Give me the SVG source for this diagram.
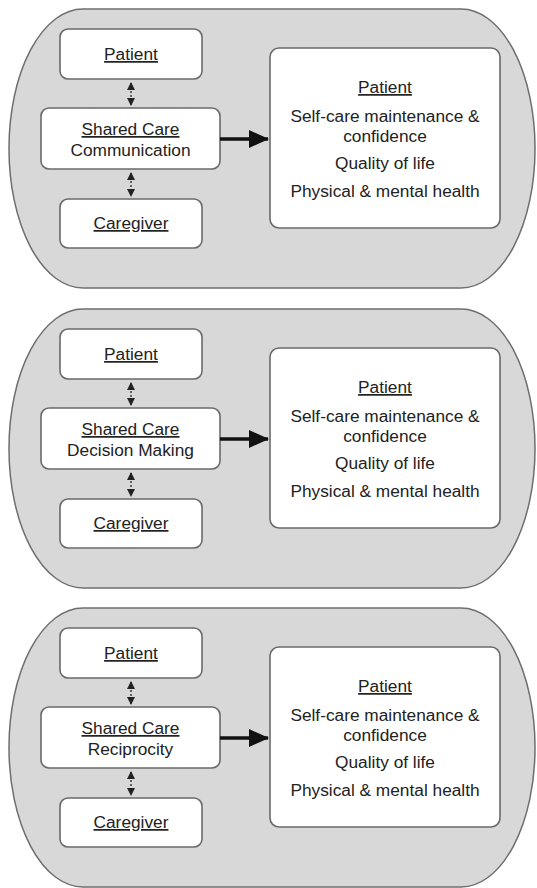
<svg xmlns="http://www.w3.org/2000/svg" width="537" height="888" viewBox="0 0 537 888">
<style>
.outer{fill:#d8d8d8;stroke:#6e6e6e;stroke-width:1.5}
.box{fill:#ffffff;stroke:#6a6a6a;stroke-width:1.6}
text{font-family:"Liberation Sans",Arial,sans-serif;font-size:17.3px;fill:#222;text-anchor:middle}
.u{text-decoration:underline}
.dbl{stroke:#222;stroke-width:1.3;stroke-dasharray:2 2;fill:none;marker-start:url(#sm);marker-end:url(#sm)}
.thick{stroke:#111;stroke-width:3.5;fill:none;marker-end:url(#big)}
</style>
<defs>
<marker id="sm" viewBox="0 0 8 8" refX="7" refY="4" markerWidth="8" markerHeight="8" markerUnits="userSpaceOnUse" orient="auto-start-reverse"><path d="M0,0 L8,4 L0,8 Z" fill="#222"/></marker>
<marker id="big" viewBox="0 0 20 18" refX="19" refY="9" markerWidth="20" markerHeight="18" markerUnits="userSpaceOnUse" orient="auto"><path d="M0,0 L20,9 L0,18 Z" fill="#111"/></marker>
</defs>

<g id="panel1">
<rect class="outer" x="9" y="9" width="526" height="279" rx="74" ry="139"/>
<g id="p1-patient"><rect class="box" x="60" y="29" width="142" height="50" rx="8"/><text x="131" y="60" class="u">Patient</text></g>
<g id="p1-shared"><rect class="box" x="41" y="108" width="179" height="61" rx="8"/><text x="130.5" y="135" class="u">Shared Care</text><text x="130.5" y="156">Communication</text></g>
<g id="p1-caregiver"><rect class="box" x="60" y="199" width="142" height="49" rx="8"/><text x="131" y="229" class="u">Caregiver</text></g>
<g id="p1-outcome"><rect class="box" x="270" y="48" width="230" height="180" rx="9"/><text x="385" y="93" class="u">Patient</text><text x="385" y="122">Self-care maintenance &amp;</text><text x="385" y="142">confidence</text><text x="385" y="169">Quality of life</text><text x="385" y="197">Physical &amp; mental health</text></g>
<g id="p1-connectors"><path class="dbl" d="M131,83 V105"/><path class="dbl" d="M131,173 V196"/><path class="thick" d="M220,139 H268"/></g>
</g>

<g id="panel2" transform="translate(0,300)">
<rect class="outer" x="9" y="9" width="526" height="279" rx="74" ry="139"/>
<g id="p2-patient"><rect class="box" x="60" y="29" width="142" height="50" rx="8"/><text x="131" y="60" class="u">Patient</text></g>
<g id="p2-shared"><rect class="box" x="41" y="108" width="179" height="61" rx="8"/><text x="130.5" y="135" class="u">Shared Care</text><text x="130.5" y="156">Decision Making</text></g>
<g id="p2-caregiver"><rect class="box" x="60" y="199" width="142" height="49" rx="8"/><text x="131" y="229" class="u">Caregiver</text></g>
<g id="p2-outcome"><rect class="box" x="270" y="48" width="230" height="180" rx="9"/><text x="385" y="93" class="u">Patient</text><text x="385" y="122">Self-care maintenance &amp;</text><text x="385" y="142">confidence</text><text x="385" y="169">Quality of life</text><text x="385" y="197">Physical &amp; mental health</text></g>
<g id="p2-connectors"><path class="dbl" d="M131,83 V105"/><path class="dbl" d="M131,173 V196"/><path class="thick" d="M220,139 H268"/></g>
</g>

<g id="panel3" transform="translate(0,599)">
<rect class="outer" x="9" y="9" width="526" height="279" rx="74" ry="139"/>
<g id="p3-patient"><rect class="box" x="60" y="29" width="142" height="50" rx="8"/><text x="131" y="60" class="u">Patient</text></g>
<g id="p3-shared"><rect class="box" x="41" y="108" width="179" height="61" rx="8"/><text x="130.5" y="135" class="u">Shared Care</text><text x="130.5" y="156">Reciprocity</text></g>
<g id="p3-caregiver"><rect class="box" x="60" y="199" width="142" height="49" rx="8"/><text x="131" y="229" class="u">Caregiver</text></g>
<g id="p3-outcome"><rect class="box" x="270" y="48" width="230" height="180" rx="9"/><text x="385" y="93" class="u">Patient</text><text x="385" y="122">Self-care maintenance &amp;</text><text x="385" y="142">confidence</text><text x="385" y="169">Quality of life</text><text x="385" y="197">Physical &amp; mental health</text></g>
<g id="p3-connectors"><path class="dbl" d="M131,83 V105"/><path class="dbl" d="M131,173 V196"/><path class="thick" d="M220,139 H268"/></g>
</g>
</svg>
